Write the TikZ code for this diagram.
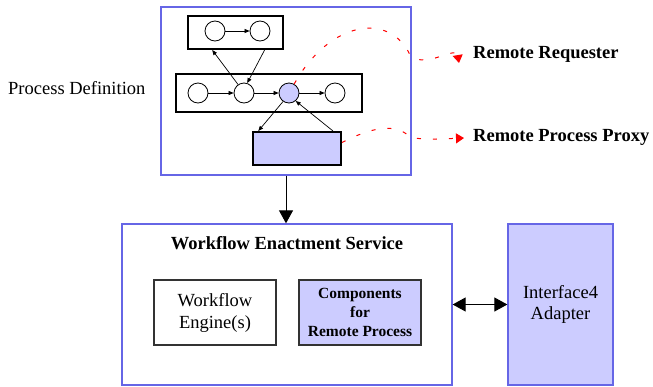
\documentclass[tikz,border=0pt]{standalone}
\usepackage{fontspec}
\setmainfont{Liberation Serif}
\usetikzlibrary{arrows.meta,calc}
\definecolor{bluebord}{RGB}{102,102,230}
\definecolor{lav}{RGB}{204,204,255}
\tikzset{
  outerbox/.style={draw=bluebord,line width=1.3pt,inner sep=0pt},
  thickbox/.style={draw=black,line width=2pt,inner sep=0pt},
  thinbox/.style={draw=black!80,line width=1.2pt,inner sep=0pt,align=center},
  circ/.style={circle,draw=black,line width=0.8pt,minimum size=20pt,inner sep=0pt},
  sarr/.style={-{Triangle[length=5pt,width=4pt]},line width=0.7pt},
  reddash/.style={red,line width=1pt,dash pattern=on 4pt off 12pt,-{Triangle[length=8pt,width=10pt]}},
  bigarr/.style={line width=1pt},
  lbl/.style={font=\fontsize{18.5}{22}\selectfont,inner sep=0pt},
  blbl/.style={font=\fontsize{18.5}{22}\selectfont\bfseries,inner sep=0pt,anchor=west},
}
\begin{document}
\begin{tikzpicture}[x=1pt,y=-1pt]
\useasboundingbox (0,0) rectangle (653,386);
% process definition
\node[outerbox,minimum width=250pt,minimum height=168pt] (pd) at (286,91) {};
\node[thickbox,minimum width=95pt,minimum height=33pt] (tb) at (235.5,32.5) {};
\node[thickbox,minimum width=186pt,minimum height=38pt] (mb) at (269,93) {};
\node[thickbox,fill=lav,minimum width=88pt,minimum height=33pt] (bb) at (297,148.5) {};
\node[circ] (t1) at (215,31) {};
\node[circ] (t2) at (260,31) {};
\node[circ] (c1) at (198,93) {};
\node[circ] (c2) at (244,93) {};
\node[circ,fill=lav] (c3) at (289,93) {};
\node[circ] (c4) at (335,93) {};
\draw[sarr] (t1) -- (t2);
\draw[sarr] (c1) -- (c2);
\draw[sarr] (c2) -- (c3);
\draw[sarr] (c3) -- (c4);
\draw[sarr] (c2.125) -- ($(tb.south west)!0.26!(tb.south east)$);
\draw[sarr] ($(tb.south west)!0.8!(tb.south east)$) -- (c2.72);
\draw[sarr] (c3.235) -- ($(bb.north west)!0.07!(bb.north east)$);
\draw[sarr] ($(bb.north west)!0.9!(bb.north east)$) -- (c3.-50);
\node[lbl,anchor=west] (pdl) at (8,88) {Process Definition};
% remote labels
\node[blbl] (rr) at (473,54) {Remote Requester};
\node[blbl] (rp) at (473,137) {Remote Process Proxy};
\coordinate (rrend) at (459,63);
\coordinate (rpend) at (464,138);
\draw[reddash] (c3.60) .. controls (330,20) and (390,12) .. (410,55) .. controls (425,70) and (456,45) .. (rrend);
\draw[reddash] ($(bb.north east)!0.33!(bb.south east)$) .. controls (370,128) and (395,122) .. (410,137) .. controls (420,140) and (440,139) .. (rpend);
% workflow enactment service
\node[outerbox,minimum width=330pt,minimum height=161pt] (wes) at (287,304.5) {};
\node[lbl,font=\fontsize{18.5}{22}\selectfont\bfseries] (wesl) at (287,243) {Workflow Enactment Service};
\node[thinbox,minimum width=122pt,minimum height=65pt,font=\fontsize{18.5}{22}\selectfont] (we) at (215,312.5) {Workflow\\Engine(s)};
\node[thinbox,fill=lav,minimum width=122pt,minimum height=65pt,font=\fontsize{15.5}{19}\selectfont\bfseries] (comp) at (360,312.5) {Components\\for\\Remote Process};
\node[outerbox,fill=lav,minimum width=105pt,minimum height=161pt,align=center,font=\fontsize{18.5}{21}\selectfont] (ia) at (560.5,304.5) {Interface4\\Adapter};
\draw[bigarr,-{Triangle[length=13pt,width=14pt]}] (pd.south) -- (pd.south |- wes.north);
\draw[bigarr,{Triangle[length=13pt,width=14pt]}-{Triangle[length=13pt,width=14pt]}] (wes.east) -- (ia.west);
\end{tikzpicture}
\end{document}
